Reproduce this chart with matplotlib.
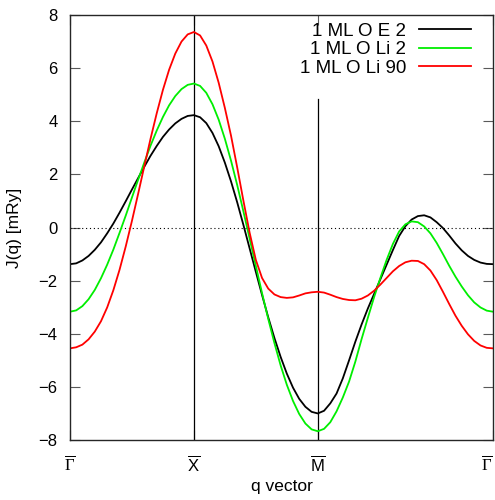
import numpy as np
import matplotlib.pyplot as plt

plt.rcParams['font.family'] = ['Liberation Sans', 'DejaVu Sans']
plt.rcParams['mathtext.fontset'] = 'custom'
plt.rcParams['mathtext.rm'] = 'Liberation Serif'
plt.rcParams['mathtext.sf'] = 'Liberation Sans'

# high symmetry points along the path G - X - M - G (square lattice)
sym_pos = [0.0, 1.0, 2.0, 2.0 + np.sqrt(2)]
sym_labels = [r'$\overline{\Gamma}$', r'$\overline{\mathsf{X}}$',
              r'$\overline{\mathsf{M}}$', r'$\overline{\Gamma}$']

# sampling of the path: G-X and X-M in 20 steps, M-G in 28 steps
q_gx = np.linspace(0.0, 1.0, 21)
q_xm = np.linspace(1.0, 2.0, 21)[1:]
q_mg = 2.0 + np.sqrt(2) * np.linspace(0.0, 1.0, 29)[1:]

# J(q) in mRy
e2_gx = [-1.38, -1.35, -1.24, -1.07, -0.84, -0.56, -0.22, 0.15, 0.56, 0.99, 1.43,
         1.86, 2.29, 2.70, 3.07, 3.41, 3.69, 3.92, 4.09, 4.20, 4.23]
e2_xm = [4.15, 3.93, 3.56, 3.06, 2.44, 1.73, 0.94, 0.09, -0.79, -1.67,
         -2.54, -3.38, -4.16, -4.87, -5.50, -6.03, -6.45, -6.75, -6.94, -7.00]
e2_mg = [-6.90, -6.62, -6.25, -5.68, -5.00, -4.30, -3.65, -3.05, -2.50, -1.95,
         -1.40, -0.85, -0.32, 0.05, 0.30, 0.43, 0.46, 0.38, 0.20, -0.02,
         -0.30, -0.60, -0.86, -1.07, -1.22, -1.32, -1.37, -1.38]

li2_gx = [-3.17, -3.12, -2.96, -2.70, -2.35, -1.91, -1.40, -0.83, -0.20, 0.45, 1.13,
          1.80, 2.45, 3.08, 3.65, 4.16, 4.60, 4.95, 5.21, 5.37, 5.42]
li2_xm = [5.33, 5.07, 4.64, 4.06, 3.34, 2.51, 1.59, 0.60, -0.42, -1.45,
          -2.47, -3.44, -4.35, -5.19, -5.92, -6.53, -7.02, -7.38, -7.60, -7.67]
li2_mg = [-7.58, -7.33, -6.92, -6.40, -5.80, -5.05, -4.20, -3.40, -2.62, -1.90,
          -1.22, -0.62, -0.15, 0.12, 0.23, 0.20, 0.04, -0.22, -0.58, -1.00,
          -1.44, -1.85, -2.22, -2.55, -2.82, -3.01, -3.13, -3.17]

li90_gx = [-4.55, -4.51, -4.41, -4.21, -3.92, -3.53, -3.01, -2.36, -1.59, -0.71, 0.25,
           1.27, 2.31, 3.34, 4.30, 5.18, 5.94, 6.55, 7.00, 7.27, 7.36]
li90_xm = [7.23, 6.85, 6.25, 5.45, 4.50, 3.45, 2.25, 1.00, -0.20, -1.22,
           -1.90, -2.30, -2.52, -2.62, -2.65, -2.63, -2.56, -2.48, -2.44, -2.42]
li90_mg = [-2.45, -2.53, -2.62, -2.69, -2.73, -2.74, -2.68, -2.56, -2.38, -2.15,
           -1.90, -1.65, -1.45, -1.31, -1.25, -1.26, -1.38, -1.62, -1.98, -2.42,
           -2.88, -3.32, -3.70, -4.02, -4.27, -4.44, -4.53, -4.55]

q = np.concatenate([q_gx, q_xm, q_mg])
j_e2 = e2_gx + e2_xm + e2_mg
j_li2 = li2_gx + li2_xm + li2_mg
j_li90 = li90_gx + li90_xm + li90_mg

fig = plt.figure(figsize=(4.95, 5.0), dpi=100)
ax = fig.add_axes([70 / 495, 60 / 500, 423 / 495, 425 / 500])

ax.axhline(0, color='black', ls=(0, (1, 2.5)), lw=0.8)
ax.plot([sym_pos[1], sym_pos[1]], [-8, 8], color='black', lw=0.9)
ax.plot([sym_pos[2], sym_pos[2]], [-8, 4.83], color='black', lw=0.9)

ax.plot(q, j_e2, color='black', lw=1.3, label='1 ML O E 2')
ax.plot(q, j_li2, color='#00ee00', lw=1.3, label='1 ML O Li 2')
ax.plot(q, j_li90, color='#ff0000', lw=1.3, label='1 ML O Li 90')

ax.set_xlim(sym_pos[0], sym_pos[-1])
ax.set_ylim(-8, 8)
ax.set_yticks(np.arange(-8, 9, 2))
ax.set_xticks(sym_pos)
ax.set_xticklabels(sym_labels)
ax.get_xticklabels()[-1].set_horizontalalignment('right')
ax.tick_params(direction='in', length=7, width=0.8, color='0.35', labelsize=12,
               right=True, top=True)
ax.tick_params(axis='y', pad=9)
ax.tick_params(axis='x', pad=10)
for s in ax.spines.values():
    s.set_linewidth(1.0)
    s.set_color('0.15')

ax.set_xlabel('q vector', fontsize=12.5, labelpad=4)
ax.set_ylabel('J(q) [mRy]', fontsize=12.5, labelpad=12)

ax.legend(loc='upper right', frameon=False, markerfirst=False, fontsize=13.5,
          handlelength=2.8, handletextpad=0.65, labelspacing=0.07,
          borderpad=0, borderaxespad=0, bbox_to_anchor=(0.948, 0.982))

fig.savefig('out.png', dpi=100)
